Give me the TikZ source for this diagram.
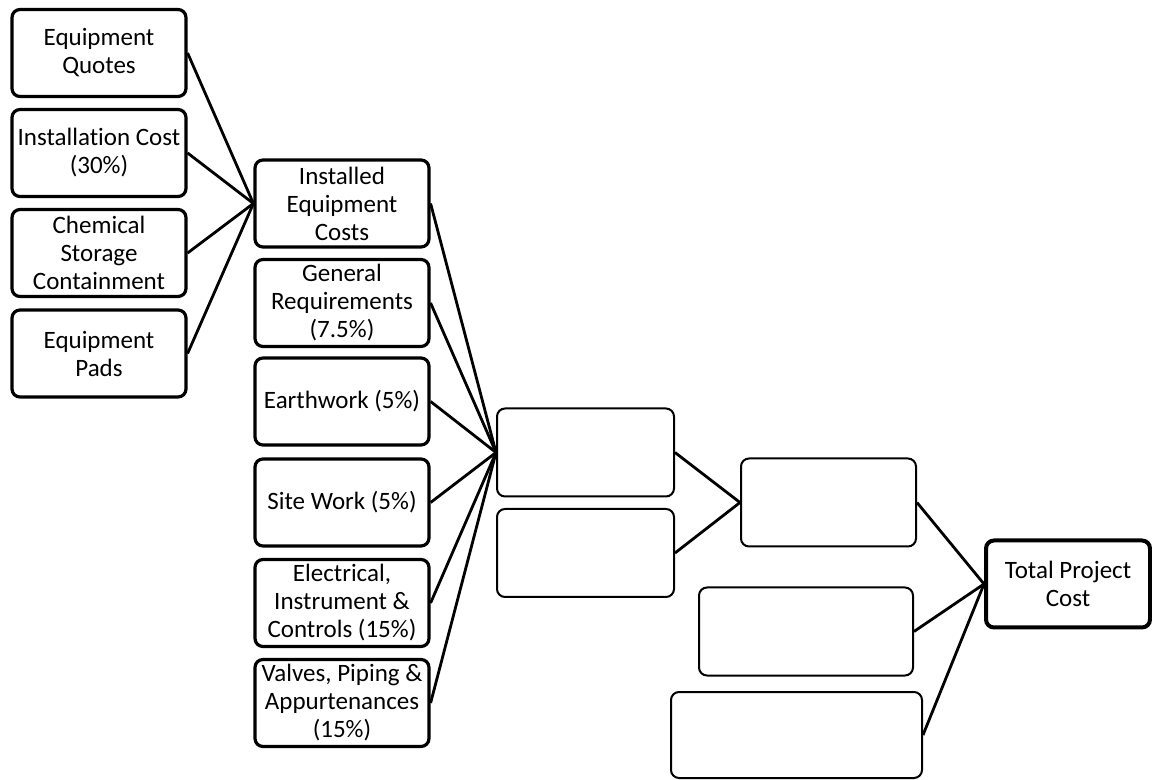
\documentclass[tikz,border=0pt]{standalone}
\usepackage{fontspec}
\setmainfont{Carlito}[Ligatures=NoCommon]
\usetikzlibrary{positioning}

\begin{document}
\begin{tikzpicture}[
    x=0.5pt, y=-0.5pt,
    box/.style={rectangle, draw, line width=1.6pt, rounded corners=4pt, align=center, minimum width=87pt, minimum height=43.5pt, inner sep=1pt, font=\fontsize{12.5}{14}\selectfont},
    blank/.style={rectangle, draw, line width=1pt, rounded corners=4pt, minimum height=44pt},
    link/.style={line width=1.4pt}
]
\useasboundingbox (0,0) rectangle (1152,780);

% Equipment inputs
\node[box] (quotes) at (99,53) {Equipment\\Quotes};
\node[box] (instcost) at (99,153) {Installation Cost\\(30\%)};
\node[box] (chemical) at (99,253) {Chemical\\Storage\\Containment};
\node[box] (pads) at (99,353.5) {Equipment\\Pads};

% Construction items
\node[box] (installed) at (342,203.5) {Installed\\Equipment\\Costs};
\node[box] (genreq) at (342,303) {General\\Requirements\\(7.5\%)};
\node[box] (earthwork) at (342,401.5) {Earthwork (5\%)};
\node[box] (sitework) at (342,502.5) {Site Work (5\%)};
\node[box] (electrical) at (342,603) {Electrical,\\Instrument \&\\Controls (15\%)};
\node[box] (valves) at (342,703) {Valves, Piping \&\\Appurtenances\\(15\%)};

% Empty boxes
\node[blank, minimum width=88.5pt] (blankA) at (585.5,452.5) {};
\node[blank, minimum width=88.5pt] (blankB) at (585.5,553) {};
\node[blank, minimum width=87.5pt] (blankC) at (828.5,502.5) {};
\node[blank, minimum width=107pt] (blankD) at (806,631.5) {};
\node[blank, minimum width=125.5pt, minimum height=43pt] (blankE) at (796.5,735) {};

% Total
\node[box, line width=2pt, minimum width=82pt] (total) at (1068,584) {Total Project\\Cost};

% Links
\foreach \n in {quotes,instcost,chemical,pads}
    \draw[link] (\n.east) -- (installed.west);
\foreach \n in {installed,genreq,earthwork,sitework,electrical,valves}
    \draw[link] (\n.east) -- (blankA.west);
\draw[link] (blankA.east) -- (blankC.west);
\draw[link] (blankB.east) -- (blankC.west);
\foreach \n in {blankC,blankD,blankE}
    \draw[link] (\n.east) -- (total.west);

\end{tikzpicture}
\end{document}
